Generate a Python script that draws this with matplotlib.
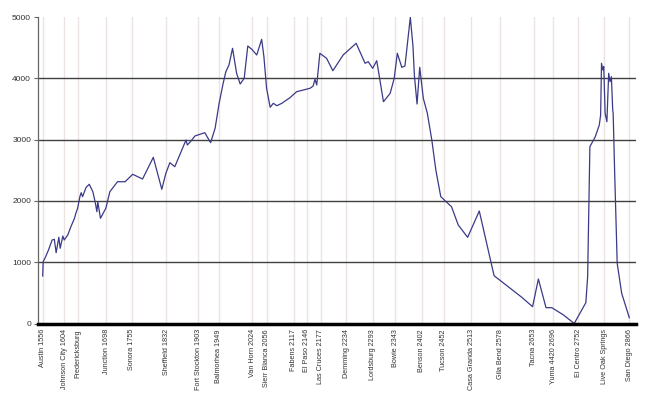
import matplotlib
matplotlib.use("Agg")
import matplotlib.pyplot as plt

plt.rcParams['font.family'] = ['Liberation Sans', 'DejaVu Sans']

# Route profile: mile marker vs elevation (ft)
miles = [1556, 1557, 1562, 1569, 1577, 1582, 1586, 1592, 1595, 1601, 1604, 1612,
         1619, 1627, 1630, 1634, 1639, 1642, 1645, 1653, 1660, 1668, 1673, 1677,
         1679, 1685, 1697, 1706, 1723, 1740, 1757, 1779, 1803, 1822, 1831, 1840,
         1851, 1862, 1876, 1879, 1886, 1896, 1918, 1931, 1941, 1950, 1959, 1965,
         1972, 1980, 1989, 1997, 2006, 2014, 2023, 2034, 2045, 2050, 2056, 2064,
         2071, 2079, 2090, 2108, 2123, 2138, 2153, 2160, 2164, 2168, 2175, 2190,
         2204, 2227, 2256, 2276, 2283, 2293, 2302, 2317, 2332, 2341, 2348, 2358,
         2365, 2377, 2383, 2386, 2392, 2398, 2406, 2415, 2425, 2434, 2445, 2469,
         2484, 2505, 2531, 2564, 2600, 2626, 2650, 2663, 2680, 2693, 2719, 2743,
         2769, 2773, 2778, 2790, 2799, 2802, 2804, 2807, 2809, 2812, 2816, 2820,
         2823, 2826, 2829, 2830, 2833, 2839, 2849, 2866]
elevation = [775, 1008, 1080, 1200, 1362, 1373, 1155, 1406, 1227, 1427, 1362, 1444,
             1580, 1716, 1797, 1880, 2069, 2134, 2069, 2222, 2271, 2150, 1987, 1824,
             1987, 1716, 1880, 2150, 2313, 2313, 2434, 2357, 2711, 2189, 2450, 2623,
             2558, 2749, 2993, 2912, 2966, 3059, 3113, 2950, 3184, 3592, 3918, 4108,
             4217, 4489, 4082, 3907, 4000, 4527, 4473, 4380, 4636, 4353, 3837, 3527,
             3592, 3553, 3592, 3683, 3781, 3809, 3837, 3874, 3984, 3891, 4408, 4326,
             4124, 4380, 4571, 4245, 4271, 4163, 4287, 3618, 3755, 4000, 4408, 4179,
             4201, 4995, 4516, 4054, 3581, 4179, 3674, 3429, 2993, 2504, 2069, 1905,
             1607, 1406, 1835, 780, 574, 427, 274, 726, 258, 258, 139, 0,
             340, 764, 2884, 3047, 3238, 3401, 4245, 4135, 4190, 3429, 3292, 4082,
             3945, 4026, 3483, 3429, 2558, 982, 493, 95]

# Labelled stops along the route
stop_miles = [1556, 1604, 1634, 1698, 1755, 1832, 1903, 1949, 2024, 2056, 2117,
              2146, 2177, 2234, 2293, 2343, 2402, 2452, 2513, 2578, 2653, 2696,
              2752, 2810, 2866]
stop_labels = ["Austin 1556", "Johnson City 1604", "Fredericksburg", "Junction 1698",
               "Sonora 1755", "Sheffield 1832", "Fort Stockton 1903", "Balmorhea 1949",
               "Van Horn 2024", "Sierr Blanca 2056", "Fabens 2117", "El Paso 2146",
               "Las Cruces 2177", "Demming 2234", "Lordsburg 2293", "Bowie 2343",
               "Benson 2402", "Tucson 2452", "Casa Granda 2513", "Gila Bend 2578",
               "Tacna 2653", "Yuma 4420 2696", "El Centro 2752", "Live Oak Springs",
               "San Diego 2866"]
y_ticks = [0, 1000, 2000, 3000, 4000, 5000]

fig = plt.figure(figsize=(6.6, 3.94), dpi=100)
ax = fig.add_axes([38/660, 70.5/394, 598/660, 306.5/394])

for m in stop_miles:
    ax.axvline(m, color='#ebe2e2', lw=1.0, zorder=0)
for v in y_ticks[1:-1]:
    ax.axhline(v, color='#404040', lw=1.0, zorder=1)

ax.plot(miles, elevation, color='#3a3a88', lw=0.9, zorder=3)

ax.set_xlim(1545.5, 2881)
ax.set_ylim(0, 5000)
ax.set_yticks(y_ticks)
ax.set_yticklabels([str(v) for v in y_ticks], fontsize=6, color='#333333')
ax.set_xticks(stop_miles)
ax.set_xticklabels(stop_labels, rotation=90, fontsize=5.2, color='#333333',
                   va='top', ha='center')

for s in ['top', 'right']:
    ax.spines[s].set_visible(False)
ax.spines['left'].set_color('#666666')
ax.spines['left'].set_linewidth(0.9)
ax.spines['bottom'].set_color('black')
ax.spines['bottom'].set_linewidth(2.5)
ax.spines['bottom'].set_zorder(4)
ax.tick_params(axis='y', length=3, width=0.8, color='#666666', pad=2)
ax.tick_params(axis='x', length=0, pad=4)

fig.savefig('out.png', dpi=100)
